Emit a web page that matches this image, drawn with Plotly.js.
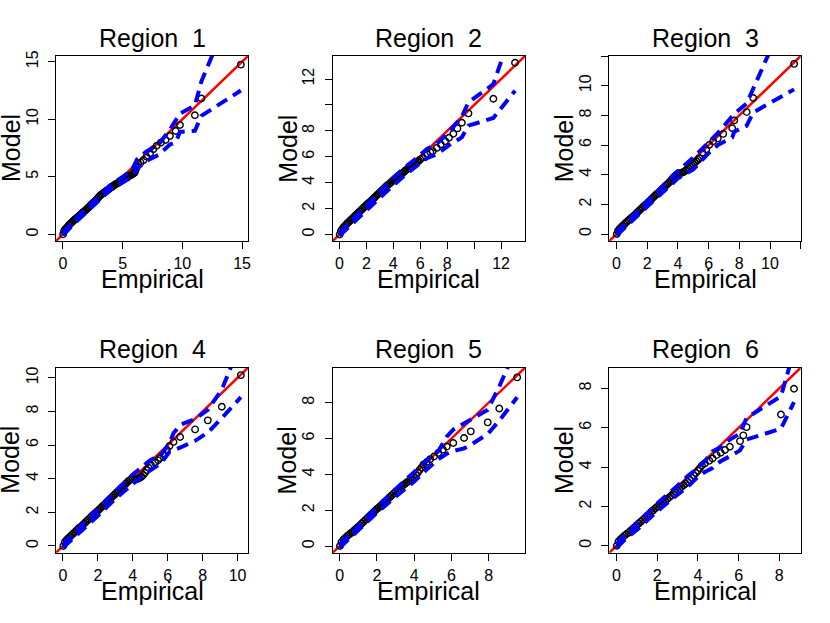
<!DOCTYPE html>
<html>
<head>
<meta charset="utf-8">
<script src="https://cdn.plot.ly/plotly-3.0.1.min.js"></script>
<style>html,body{margin:0;padding:0;background:#fff}</style>
</head>
<body>
<div id="chart" style="width:830px;height:623px"></div>
<script>
// QQ plots per region: empirical quantiles (x) vs model quantiles (y),
// with upper / lower confidence bands (blue dashed) and the 1:1 line (red)

const regionNames = ['Region  1', 'Region  2', 'Region  3', 'Region  4', 'Region  5', 'Region  6'];

// Region 1
const emp1 = [0.02,0.1,0.2,0.3,0.4,0.5,0.6,0.7,0.8,0.9,1.0,1.1,1.2,1.3,1.4,1.5,1.6,1.7,1.8,1.9,2.0,2.1,2.2,2.3,2.4,2.5,2.6,2.7,2.8,2.9,3.0,3.1,3.2,3.3,3.4,3.5,3.6,3.7,3.8,3.9,4.0,4.1,4.2,4.3,4.4,4.5,4.6,4.7,4.8,4.9,5.0,5.1,5.2,5.3,5.4,5.5,5.6,5.7,5.8,5.9,6.0,6.05,6.1,6.15,6.2,6.3,
    6.5,6.75,7.0,7.3,7.57,7.85,8.2,8.6,8.96,9.44,9.8,11.05,11.6,14.9];
const mod1 = [0.0,0.3,0.45,0.55,0.65,0.8,0.9,1.0,1.1,1.2,1.3,1.38,1.45,1.55,1.65,1.75,1.85,1.93,2.0,2.1,2.2,2.3,2.4,2.5,2.6,2.7,2.8,2.9,3.0,3.12,3.25,3.35,3.45,3.52,3.6,3.68,3.75,3.82,3.9,3.98,4.05,4.12,4.2,4.28,4.35,4.4,4.45,4.52,4.6,4.68,4.75,4.82,4.9,4.95,5.0,5.05,5.1,5.15,5.2,5.28,5.35,5.5,5.65,5.8,5.95,6.1,
    6.25,6.45,6.75,7.05,7.39,7.7,7.97,8.2,8.55,8.98,9.5,10.35,11.8,14.75];
const upX1 = [0,0.5,1,2,3,4,5,5.8,6.2,7,8,8.96,9.8,11.05,11.6,14.9];
const up1  = [0.1,0.75,1.3,2.3,3.35,4.3,5.0,5.6,6.5,7.2,7.8,9.1,10.5,11.2,13.3,21.5];
const loX1 = [0,0.5,1,2,3,4,5,5.8,6.2,7,8,8.96,9.44,9.8,11.05,11.6,14.9];
const lo1  = [-0.1,0.5,1.0,1.95,2.95,3.9,4.5,5.0,5.7,6.4,6.9,7.8,8.0,8.9,9.0,10.3,12.5];

// Region 2
const emp2 = [0.02,0.1,0.2,0.3,0.4,0.5,0.6,0.7,0.8,0.9,1.0,1.1,1.2,1.3,1.4,1.5,1.6,1.7,1.8,1.9,2.0,2.1,2.2,2.3,2.4,2.5,2.6,2.7,2.8,2.9,3.0,3.1,3.2,3.3,3.4,3.5,3.6,3.7,3.8,3.9,4.0,4.1,4.2,4.3,4.4,4.5,4.6,4.7,4.8,4.9,5.0,5.1,5.2,5.3,5.4,5.5,5.6,5.7,5.8,5.9,6.0,
    6.2,6.5,6.75,6.93,7.23,7.53,7.85,8.14,8.46,8.76,9.09,9.58,11.43,13.04];
const mod2 = [0.0,0.25,0.4,0.55,0.65,0.78,0.88,0.98,1.08,1.18,1.28,1.38,1.48,1.58,1.68,1.78,1.88,1.98,2.08,2.18,2.28,2.37,2.46,2.55,2.65,2.75,2.85,2.95,3.05,3.15,3.25,3.35,3.45,3.55,3.65,3.75,3.83,3.9,4.0,4.1,4.18,4.25,4.35,4.45,4.52,4.6,4.68,4.75,4.85,4.95,5.02,5.1,5.18,5.25,5.32,5.4,5.48,5.55,5.62,5.7,5.8,
    5.95,6.2,6.35,6.44,6.69,6.95,7.21,7.47,7.78,8.19,8.63,9.35,10.48,13.26];
const upX2 = [0,0.5,1,2,3,4,5,5.5,6.5,7.23,8.14,9.09,9.58,11.43,13.04];
const up2  = [0.1,0.65,1.2,2.3,3.3,4.4,5.3,5.7,6.6,7.0,7.9,9.1,10.2,11.6,16.5];
const loX2 = [0,0.5,1,2,3,4,5,5.5,6.5,7.23,8.14,9.09,9.58,11.43,13.04];
const lo2  = [-0.1,0.4,0.9,1.9,2.8,3.8,4.7,5.1,5.9,6.2,6.9,7.5,8.4,9.0,11.1];

// Region 3
const emp3 = [0.02,0.1,0.2,0.3,0.4,0.5,0.6,0.7,0.8,0.9,1.0,1.1,1.2,1.3,1.4,1.5,1.6,1.7,1.8,1.9,2.0,2.1,2.2,2.3,2.4,2.5,2.6,2.7,2.8,2.9,3.0,3.1,3.2,3.3,3.4,3.5,3.6,3.7,3.8,3.9,4.0,4.1,4.2,4.3,4.4,4.5,4.6,4.7,4.8,4.9,5.0,5.1,5.2,5.3,5.4,
    5.6,5.85,6.04,6.3,6.6,6.95,7.54,7.67,8.48,8.91,11.57];
const mod3 = [0.0,0.22,0.35,0.45,0.55,0.65,0.75,0.85,0.95,1.03,1.12,1.2,1.3,1.4,1.5,1.6,1.7,1.8,1.9,1.98,2.08,2.18,2.28,2.38,2.48,2.58,2.68,2.76,2.85,2.95,3.05,3.15,3.25,3.35,3.45,3.55,3.68,3.8,3.9,4.0,4.05,4.1,4.12,4.15,4.2,4.27,4.35,4.45,4.55,4.62,4.7,4.8,4.9,5.0,5.1,
    5.5,5.7,6.0,6.25,6.45,6.75,7.13,7.65,8.22,9.17,11.47];
const upX3 = [0,0.5,1,2,3,3.5,4,5,6,6.6,7.67,8.48,11.57];
const up3  = [0.1,0.65,1.15,2.2,3.2,3.75,4.25,5.15,6.2,6.8,8.1,8.8,16];
const loX3 = [0,0.5,1,2,3,3.5,4,5,6,6.6,7.54,7.67,8.48,8.91,11.57];
const lo3  = [-0.1,0.4,0.85,1.85,2.8,3.3,3.75,4.35,5.45,6.0,6.5,6.9,7.3,8.2,9.75];

// Region 4
const emp4 = [0.02,0.1,0.2,0.3,0.4,0.5,0.6,0.7,0.8,0.9,1.0,1.1,1.2,1.3,1.4,1.5,1.6,1.7,1.8,1.9,2.0,2.1,2.2,2.3,2.4,2.5,2.6,2.7,2.8,2.9,3.0,3.1,3.2,3.3,3.4,3.5,3.6,3.7,3.8,3.9,4.0,4.1,4.2,4.3,4.4,4.5,4.6,4.7,4.8,4.9,
    5.05,5.28,5.45,5.57,5.75,5.95,6.1,6.33,6.71,7.57,8.3,9.1,10.19];
const mod4 = [0.0,0.22,0.35,0.45,0.55,0.65,0.75,0.85,0.95,1.05,1.13,1.22,1.32,1.42,1.52,1.62,1.72,1.82,1.92,2.0,2.1,2.2,2.3,2.4,2.5,2.6,2.7,2.8,2.9,3.0,3.1,3.2,3.3,3.4,3.5,3.6,3.7,3.8,3.9,3.97,4.0,3.98,3.97,4.0,4.05,4.12,4.22,4.35,4.5,4.65,
    4.8,4.95,5.1,5.23,5.45,5.7,5.94,6.18,6.48,6.93,7.47,8.28,10.16];
const upX4 = [0,0.5,1,2,3,4,5,5.6,6.1,6.33,6.71,7.57,8.3,9.1,10.19];
const up4  = [0.1,0.65,1.15,2.2,3.2,4.25,5.1,5.4,6.1,6.7,7.2,7.55,8.1,9.3,12.1];
const loX4 = [0,0.5,1,2,3,4,5,5.6,6.1,6.71,7.57,8.3,9.1,10.19];
const lo4  = [-0.1,0.4,0.85,1.8,2.8,3.7,4.5,4.9,5.6,5.85,6.25,6.75,7.6,8.85];

// Region 5
const emp5 = [0.02,0.1,0.2,0.3,0.4,0.5,0.6,0.7,0.8,0.9,1.0,1.1,1.2,1.3,1.4,1.5,1.6,1.7,1.8,1.9,2.0,2.1,2.2,2.3,2.4,2.5,2.6,2.7,2.8,2.9,3.0,3.1,3.2,3.3,3.4,3.5,3.6,3.7,3.8,3.9,4.0,4.1,4.2,4.3,4.4,
    4.5,4.68,4.86,5.07,5.3,5.54,5.75,6.1,6.68,7.04,7.95,8.57,9.53];
const mod5 = [0.0,0.22,0.35,0.45,0.55,0.63,0.72,0.8,0.9,0.98,1.07,1.17,1.27,1.37,1.47,1.57,1.67,1.77,1.87,1.97,2.07,2.15,2.24,2.33,2.43,2.53,2.63,2.73,2.83,2.93,3.02,3.1,3.2,3.3,3.38,3.46,3.55,3.62,3.7,3.78,3.85,3.95,4.1,4.25,4.38,
    4.55,4.69,4.85,5.0,5.2,5.38,5.55,5.75,6.03,6.4,6.9,7.67,9.41];
const upX5 = [0,0.5,1,2,3,4,4.7,5.3,5.75,6.1,6.68,7.04,7.95,8.57,9.53];
const up5  = [0.1,0.6,1.1,2.2,3.15,4.15,4.8,5.3,6.1,6.5,6.85,7.05,7.6,8.9,11.2];
const loX5 = [0,0.5,1,2,3,4,4.7,5.3,5.75,6.1,6.68,7.04,7.95,8.57,9.53];
const lo5  = [-0.1,0.4,0.85,1.85,2.75,3.6,4.3,4.85,5.15,5.3,5.45,5.65,6.25,7.0,8.3];

// Region 6
const emp6 = [0.02,0.1,0.2,0.3,0.4,0.5,0.6,0.7,0.8,0.9,1.0,1.1,1.2,1.3,1.4,1.5,1.6,1.7,1.8,1.9,2.0,2.1,2.2,2.3,2.4,2.5,2.6,2.7,2.8,2.9,3.0,3.1,3.2,3.3,3.4,3.5,3.6,3.7,3.8,3.9,4.0,4.1,4.2,
    4.34,4.56,4.72,4.92,5.12,5.33,5.57,6.07,6.23,6.39,8.08,8.72];
const mod6 = [0.0,0.22,0.33,0.42,0.52,0.6,0.68,0.77,0.86,0.95,1.05,1.14,1.23,1.32,1.42,1.52,1.62,1.72,1.8,1.9,1.98,2.06,2.14,2.22,2.3,2.38,2.47,2.56,2.65,2.74,2.83,2.92,3.0,3.08,3.16,3.25,3.35,3.46,3.58,3.7,3.82,3.95,4.08,
    4.19,4.32,4.44,4.61,4.73,4.87,5.03,5.32,5.61,6.03,6.67,7.98];
const upX6 = [0,0.5,1,2,3,3.5,4,4.34,4.72,5.12,5.57,6.07,6.39,8.08,8.72];
const up6  = [0.1,0.6,1.1,2.15,3.05,3.55,3.95,4.3,4.8,5.0,5.4,5.7,6.5,7.6,9.9];
const loX6 = [0,0.5,1,2,3,3.5,4,4.34,4.72,5.12,5.57,6.07,6.39,8.08,8.72];
const lo6  = [-0.1,0.4,0.8,1.75,2.6,3.0,3.5,3.75,3.95,4.3,4.55,4.85,5.4,5.95,7.3];

// axis limits (same on both axes) and tick marks
const lim1 = [-0.58, 15.5];
const lim2 = [-0.5, 13.78];
const lim3 = [-0.47, 12.0];
const lim4 = [-0.4, 10.6];
const lim5 = [-0.37, 9.95];
const lim6 = [-0.35, 9.05];

const ticks1 = [0, 5, 10, 15];
const labels1 = ['0', '5', '10', '15'];
const ticks2 = [0, 2, 4, 6, 8, 10, 12];
const labels2 = ['0', '2', '4', '6', '8', '', '12'];
const ticks3 = [0, 2, 4, 6, 8, 10, 12];
const labels3 = ['0', '2', '4', '6', '8', '10', ''];
const ticks4 = [0, 2, 4, 6, 8, 10];
const labels4 = ['0', '2', '4', '6', '8', '10'];
const ticks5 = [0, 2, 4, 6, 8];
const labels5 = ['0', '2', '4', '6', '8'];
const ticks6 = [0, 2, 4, 6, 8];
const labels6 = ['0', '2', '4', '6', '8'];

const panels = [
    { emp: emp1, mod: mod1, upX: upX1, up: up1, loX: loX1, lo: lo1, lim: lim1, ticks: ticks1, labels: labels1 },
    { emp: emp2, mod: mod2, upX: upX2, up: up2, loX: loX2, lo: lo2, lim: lim2, ticks: ticks2, labels: labels2 },
    { emp: emp3, mod: mod3, upX: upX3, up: up3, loX: loX3, lo: lo3, lim: lim3, ticks: ticks3, labels: labels3 },
    { emp: emp4, mod: mod4, upX: upX4, up: up4, loX: loX4, lo: lo4, lim: lim4, ticks: ticks4, labels: labels4 },
    { emp: emp5, mod: mod5, upX: upX5, up: up5, loX: loX5, lo: lo5, lim: lim5, ticks: ticks5, labels: labels5 },
    { emp: emp6, mod: mod6, upX: upX6, up: up6, loX: loX6, lo: lo6, lim: lim6, ticks: ticks6, labels: labels6 }
];

const W = 830, H = 623;
const colDomains = [[56 / W, 248 / W], [332.7 / W, 525 / W], [609.3 / W, 800.7 / W]];
const rowDomains = [[1 - 241 / H, 1 - 56 / H], [1 - 552.7 / H, 1 - 367.7 / H]];

const FONT = 'Liberation Sans, Arial, Helvetica, sans-serif';

const traces = [];
const shapes = [];
const annotations = [];
const layout = {
    width: W,
    height: H,
    margin: { t: 0, r: 0, b: 0, l: 0 },
    paper_bgcolor: '#ffffff',
    plot_bgcolor: '#ffffff',
    showlegend: false,
    font: { family: FONT, color: '#000000', size: 16 }
};

function axisStyle(p, domain, anchor, isY) {
    return {
        domain: domain,
        anchor: anchor,
        range: p.lim,
        tickmode: 'array',
        tickvals: p.ticks,
        ticktext: p.labels,
        ticks: 'outside',
        ticklen: 7,
        tickwidth: 1,
        tickcolor: '#000000',
        tickangle: isY ? -90 : 0,
        ticklabelstandoff: isY ? 4 : 1,
        tickfont: { family: FONT, size: 16, color: '#000000' },
        showline: true,
        mirror: true,
        linecolor: '#000000',
        linewidth: 1,
        showgrid: false,
        zeroline: false,
        fixedrange: true
    };
}

panels.forEach((p, i) => {
    const n = i === 0 ? '' : String(i + 1);
    const xa = 'x' + n, ya = 'y' + n;
    const col = i % 3, row = Math.floor(i / 3);
    const xd = colDomains[col], yd = rowDomains[row];

    layout['xaxis' + n] = axisStyle(p, xd, ya, false);
    layout['yaxis' + n] = axisStyle(p, yd, xa, true);

    // 1:1 reference line, under the points
    shapes.push({
        type: 'line', xref: xa, yref: ya, layer: 'below',
        x0: p.lim[0], y0: p.lim[0], x1: p.lim[1], y1: p.lim[1],
        line: { color: '#ff0000', width: 2.5 }
    });

    traces.push({
        x: p.emp, y: p.mod, xaxis: xa, yaxis: ya,
        type: 'scatter', mode: 'markers', hoverinfo: 'skip',
        marker: { symbol: 'circle-open', size: 6.5, color: '#000000', line: { width: 1.4, color: '#000000' } }
    });
    [[p.upX, p.up], [p.loX, p.lo]].forEach(([bx, by]) => {
        traces.push({
            x: bx, y: by, xaxis: xa, yaxis: ya,
            type: 'scatter', mode: 'lines', hoverinfo: 'skip',
            line: { color: '#0000ff', width: 4, dash: '12px,7px' }
        });
    });

    const cx = (xd[0] + xd[1]) / 2;
    const cy = (yd[0] + yd[1]) / 2;
    const topPx = (1 - yd[1]) * H, botPx = (1 - yd[0]) * H, leftPx = xd[0] * W;

    annotations.push({
        text: regionNames[i], xref: 'paper', yref: 'paper',
        x: cx, y: 1 - (topPx - 18.5) / H, xanchor: 'center', yanchor: 'middle',
        showarrow: false, font: { family: FONT, size: 25, color: '#000000' }
    });
    annotations.push({
        text: 'Empirical', xref: 'paper', yref: 'paper',
        x: cx, y: 1 - (botPx + 38.5) / H, xanchor: 'center', yanchor: 'middle',
        showarrow: false, font: { family: FONT, size: 25, color: '#000000' }
    });
    annotations.push({
        text: 'Model', xref: 'paper', yref: 'paper', textangle: -90,
        x: (leftPx - 45.5) / W, y: cy, xanchor: 'center', yanchor: 'middle',
        showarrow: false, font: { family: FONT, size: 25, color: '#000000' }
    });
});

layout.shapes = shapes;
layout.annotations = annotations;

Plotly.newPlot('chart', traces, layout, { displayModeBar: false, staticPlot: true });
</script>
</body>
</html>
